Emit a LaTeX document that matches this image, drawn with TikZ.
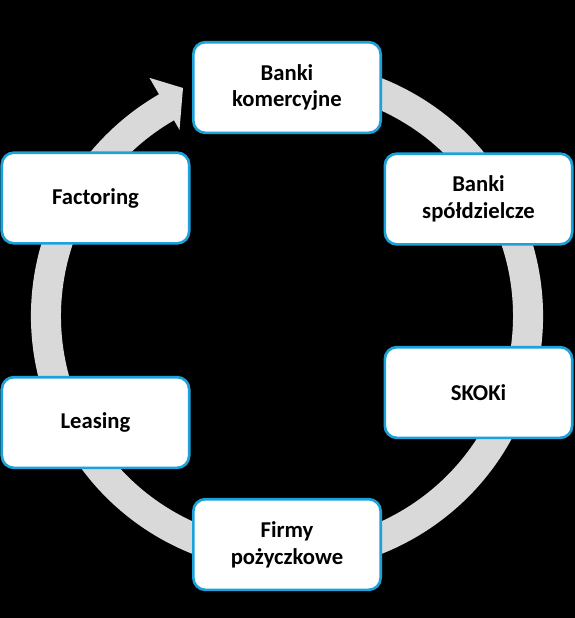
\documentclass[tikz,border=0pt]{standalone}
\usepackage{fontspec}
\setmainfont{Carlito}
\usetikzlibrary{calc}
\definecolor{ringgray}{HTML}{D9D9D9}
\definecolor{boxblue}{HTML}{1DA1DA}
\tikzset{
  stagebox/.style={draw=boxblue, line width=2pt, fill=white, rounded corners=9pt,
    minimum width=140.5pt, minimum height=68pt, align=center, inner sep=2pt,
    font=\fontsize{17}{20}\selectfont\bfseries, text=black},
}
\begin{document}
\begin{tikzpicture}[x=0.75pt,y=0.75pt]
\fill[black] (0,0) rectangle (575,-618);
\useasboundingbox (0,0) rectangle (575,-618);
\coordinate (c) at (287,-316);
\coordinate (tip) at (183,-88);
\fill[ringgray] ($(c)+(70:256)$) arc[start angle=70, end angle=-240, radius=256]
  -- ($(c)+(-240:275)$) -- (tip) -- ($(c)+(-240:215)$)
  -- ($(c)+(-240:226)$) arc[start angle=-240, end angle=70, radius=226] -- cycle;
\node[stagebox] (bk) at (287,-87.5) {Banki\\komercyjne};
\node[stagebox] (bs) at (478.5,-199) {Banki\\spółdzielcze};
\node[stagebox] (sk) at (478.5,-392.5) {SKOKi};
\node[stagebox] (fp) at (287,-544.5) {Firmy\\pożyczkowe};
\node[stagebox] (le) at (95.5,-422.5) {Leasing};
\node[stagebox] (fa) at (95.5,-198) {Factoring};
\end{tikzpicture}
\end{document}
